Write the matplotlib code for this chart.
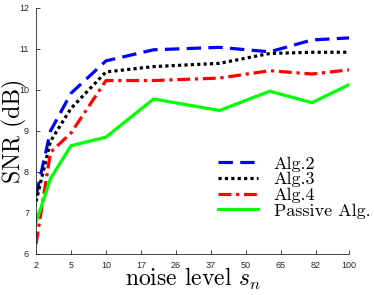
import numpy as np
import matplotlib
matplotlib.use('Agg')
import matplotlib.pyplot as plt

plt.rcParams['mathtext.fontset'] = 'cm'
plt.rcParams['font.family'] = ['Liberation Sans', 'DejaVu Sans']

noise = [2, 3, 5, 10, 20, 40, 60, 80, 100]
alg2 = [7.42, 9.0, 9.92, 10.71, 10.98, 11.04, 10.93, 11.22, 11.27]
alg3 = [7.28, 8.75, 9.55, 10.44, 10.57, 10.65, 10.89, 10.92, 10.92]
alg4 = [6.24, 8.48, 8.95, 10.23, 10.23, 10.29, 10.47, 10.39, 10.49]
passive = [6.77, 7.84, 8.64, 8.85, 9.78, 9.50, 9.97, 9.69, 10.13]
xticks = [2, 5, 10, 17, 26, 37, 50, 65, 82, 100]
yticks = [6, 7, 8, 9, 10, 11, 12]

fig = plt.figure(figsize=(3.74, 2.95), dpi=100)
ax = fig.add_axes([0.0963, 0.139, 0.837, 0.834])

# x axis is spaced by sqrt(x-1)
fwd = lambda x: np.sqrt(np.maximum(np.asarray(x, float) - 1, 0))
inv = lambda y: np.asarray(y, float) ** 2 + 1
ax.set_xscale('function', functions=(fwd, inv))

lw = 2.3
ax.plot(noise, alg2, color='#0000ff', lw=lw, dashes=(4.5, 2.3), label='Alg.2')
ax.plot(noise, alg3, color='black', lw=lw, dashes=(1, 1), label='Alg.3')
ax.plot(noise, alg4, color='#ff0000', lw=lw, dashes=(4, 1.5, 1, 1.5), label='Alg.4')
ax.plot(noise, passive, color='#00ff00', lw=lw, label='Passive Alg.')

ax.set_xlim(2, 100)
ax.set_ylim(6, 12)
ax.set_xticks(xticks)
ax.set_xticklabels([str(t) for t in xticks])
ax.set_yticks(yticks)
ax.minorticks_off()
ax.tick_params(direction='in', length=3, width=0.6, labelsize=6.5,
               colors='#262626', pad=5)
for s in ['top', 'right']:
    ax.spines[s].set_visible(False)
for s in ['left', 'bottom']:
    ax.spines[s].set_color('#262626')
    ax.spines[s].set_linewidth(0.6)

ax.set_xlabel(r'noise level $s_n$', family='cmr10', fontsize=17, labelpad=-3)
ax.set_ylabel('SNR (dB)', family='cmr10', fontsize=17, labelpad=-6)

ax.legend(loc='upper left', bbox_to_anchor=(0.581, 0.398), frameon=False,
          prop={'family': 'cmr10', 'size': 13}, handlelength=2.2,
          handletextpad=0.9, labelspacing=0.0, borderpad=0, borderaxespad=0)

fig.savefig('out.png', dpi=100)
